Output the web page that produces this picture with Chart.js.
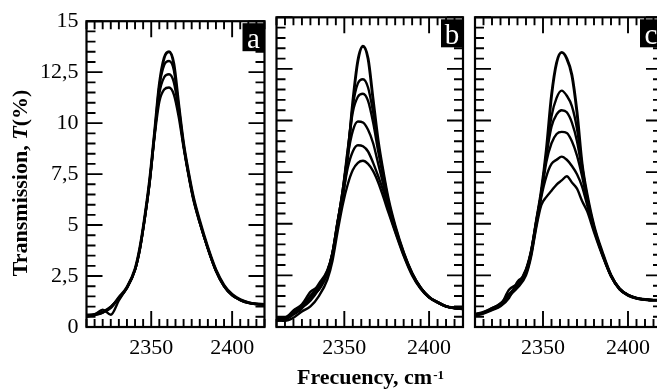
<!DOCTYPE html>
<html>
<head>
<meta charset="utf-8">
<script src="https://cdn.jsdelivr.net/npm/chart.js@4.4.1/dist/chart.umd.min.js"></script>
<style>
  html, body { margin: 0; padding: 0; background: #fff; overflow: hidden; }
  body { width: 657px; height: 390px; position: relative; }
  canvas { position: absolute; top: 0; }
</style>
</head>
<body>
<canvas id="chartA" width="270" height="390" style="left:0"></canvas>
<canvas id="chartB" width="200" height="390" style="left:270px"></canvas>
<canvas id="chartC" width="200" height="390" style="left:468px"></canvas>
<script>
/* Transmission spectra, three panels */

// wavenumber grid (cm-1) shared by all curves
const wavenumbers = [2310, 2315, 2320, 2325, 2330, 2335, 2340, 2343, 2346, 2349, 2352, 2355, 2358, 2361,
  2364, 2367, 2370, 2373, 2376, 2380, 2385, 2390, 2395, 2400, 2405, 2410, 2415, 2420];

// panel a
const a1 = [0.55, 0.62, 0.72, 0.95, 1.45, 1.95, 2.85, 3.9, 5.4, 7.2, 9.5, 11.9, 13.2, 13.5, 12.9, 10.9, 9.0, 7.6, 6.4, 5.2, 3.9, 2.8, 2.05, 1.6, 1.35, 1.2, 1.13, 1.1];
const a2 = [0.5, 0.6, 0.75, 1.0, 1.4, 1.9, 2.8, 3.85, 5.35, 7.15, 9.45, 11.8, 12.85, 13.05, 12.6, 10.8, 8.95, 7.55, 6.35, 5.15, 3.85, 2.75, 2.0, 1.55, 1.32, 1.18, 1.12, 1.1];
const a3 = [0.52, 0.58, 0.7, 0.98, 1.42, 1.92, 2.82, 3.85, 5.35, 7.1, 9.4, 11.45, 12.25, 12.4, 12.0, 10.6, 8.9, 7.5, 6.3, 5.1, 3.85, 2.78, 2.02, 1.58, 1.33, 1.2, 1.14, 1.12];
const a4 = [0.6, 0.62, 0.85, 0.6, 1.3, 1.95, 2.8, 3.8, 5.3, 7.05, 9.3, 11.05, 11.65, 11.75, 11.4, 10.3, 8.8, 7.45, 6.25, 5.1, 3.85, 2.75, 2.0, 1.55, 1.32, 1.18, 1.12, 1.1];

// panel b
const b1 = [0.4, 0.45, 0.7, 0.95, 1.3, 1.85, 2.6, 3.5, 5.0, 6.3, 8.2, 10.9, 12.9, 13.6, 13.0, 11.0, 9.0, 7.5, 6.2, 4.9, 3.6, 2.6, 1.9, 1.45, 1.2, 1.0, 0.92, 0.88];
const b2 = [0.35, 0.4, 0.65, 1.0, 1.45, 1.95, 2.7, 3.6, 5.1, 6.5, 8.5, 10.7, 11.8, 12.0, 11.6, 10.4, 8.8, 7.4, 6.1, 4.85, 3.6, 2.6, 1.9, 1.45, 1.2, 1.0, 0.92, 0.88];
const b3 = [0.38, 0.42, 0.75, 1.05, 1.5, 2.1, 2.75, 3.6, 5.05, 6.6, 8.6, 10.4, 11.15, 11.3, 10.95, 9.9, 8.5, 7.2, 6.0, 4.8, 3.55, 2.58, 1.9, 1.45, 1.2, 1.0, 0.92, 0.88];
const b4 = [0.3, 0.4, 0.8, 1.1, 1.7, 2.0, 2.7, 3.55, 5.0, 6.6, 8.3, 9.5, 9.95, 9.9, 9.55, 8.9, 7.9, 6.9, 5.9, 4.75, 3.55, 2.58, 1.9, 1.45, 1.2, 1.0, 0.92, 0.88];
const b5 = [0.3, 0.35, 0.6, 0.9, 1.5, 1.8, 2.6, 3.45, 4.9, 6.3, 7.7, 8.5, 8.8, 8.75, 8.5, 7.95, 7.3, 6.6, 5.7, 4.65, 3.5, 2.55, 1.88, 1.45, 1.2, 1.0, 0.92, 0.88];
const b6 = [0.35, 0.3, 0.45, 0.75, 1.0, 1.5, 2.3, 3.2, 4.6, 5.9, 6.9, 7.6, 7.95, 8.05, 7.9, 7.55, 7.0, 6.3, 5.55, 4.6, 3.45, 2.5, 1.85, 1.42, 1.18, 1.0, 0.92, 0.88];

// panel c
const c1 = [0.62, 0.72, 0.9, 1.1, 1.5, 1.95, 2.7, 3.6, 5.1, 6.6, 8.6, 11.2, 12.8, 13.3, 13.0, 12.2, 10.4, 7.9, 6.4, 4.9, 3.6, 2.5, 1.85, 1.55, 1.4, 1.33, 1.3, 1.3];
const c2 = [0.6, 0.7, 0.88, 1.1, 1.55, 2.0, 2.75, 3.65, 5.1, 6.5, 8.4, 10.2, 11.1, 11.45, 11.2, 10.7, 9.6, 7.8, 6.3, 4.85, 3.55, 2.5, 1.85, 1.55, 1.4, 1.33, 1.3, 1.3];
const c3 = [0.6, 0.7, 0.9, 1.15, 1.6, 2.05, 2.8, 3.7, 5.1, 6.5, 8.3, 9.7, 10.3, 10.5, 10.4, 9.9, 9.0, 7.6, 6.2, 4.8, 3.55, 2.5, 1.85, 1.55, 1.4, 1.33, 1.3, 1.3];
const c4 = [0.58, 0.68, 0.85, 1.05, 1.8, 2.1, 2.7, 3.6, 5.0, 6.4, 8.0, 8.9, 9.35, 9.45, 9.4, 9.0, 8.3, 7.3, 6.1, 4.75, 3.5, 2.48, 1.85, 1.55, 1.4, 1.33, 1.3, 1.3];
const c5 = [0.55, 0.65, 0.82, 1.0, 1.4, 2.2, 2.6, 3.5, 4.9, 6.3, 7.3, 7.9, 8.1, 8.25, 8.1, 7.8, 7.4, 6.8, 5.9, 4.7, 3.5, 2.48, 1.85, 1.55, 1.4, 1.33, 1.3, 1.3];
const c6 = [0.6, 0.7, 0.85, 1.05, 1.55, 1.9, 2.5, 3.4, 4.8, 5.9, 6.3, 6.6, 6.9, 7.1, 7.3, 7.0, 6.7, 6.1, 5.6, 4.6, 3.45, 2.45, 1.82, 1.52, 1.38, 1.32, 1.3, 1.3];

// axes
const xMin = 2310, xMax = 2420;
const xLabelTicks = [2350, 2400];
const yMin = 0, yMax = 15, yStep = 2.5;

const SERIF = '"Liberation Serif", "Times New Roman", serif';

// frame, inward major/minor ticks, panel letter and titles
const decor = {
  id: 'decor',
  afterDatasetsDraw(chart, args, opts) {
    const { ctx, chartArea: a } = chart;
    const x = chart.scales.x, y = chart.scales.y;
    ctx.save();
    ctx.strokeStyle = '#000';
    ctx.lineWidth = 1.9;
    ctx.beginPath();
    for (let v = xMin; v <= xMax; v += 5) {
      const px = x.getPixelForValue(v);
      const len = v % 50 === 0 ? 16 : 8;
      ctx.moveTo(px, a.bottom); ctx.lineTo(px, a.bottom - len);
      ctx.moveTo(px, a.top); ctx.lineTo(px, a.top + len);
    }
    for (let i = 0; i <= 30; i++) {
      const py = y.getPixelForValue(i * 0.5);
      const len = i % 5 === 0 ? 16 : 9;
      ctx.moveTo(a.left, py); ctx.lineTo(a.left + len, py);
      ctx.moveTo(a.right, py); ctx.lineTo(a.right - len, py);
    }
    ctx.stroke();
    ctx.lineWidth = 2.2;
    ctx.strokeRect(a.left, a.top, a.right - a.left, a.bottom - a.top);

    // panel letter
    ctx.fillStyle = '#000';
    ctx.fillRect(a.right - 22, a.top + 2, 22, 28);
    ctx.fillStyle = '#fff';
    ctx.font = '29px ' + SERIF;
    ctx.textAlign = 'center';
    ctx.textBaseline = 'alphabetic';
    ctx.fillText(opts.letter, a.right - 11, a.top + 27);

    ctx.fillStyle = '#000';
    ctx.textAlign = 'left';
    if (opts.yTitle) {
      const parts = [['bold 22px ' + SERIF, 'Transmission, '], ['italic bold 22px ' + SERIF, 'T'], ['bold 22px ' + SERIF, '(%)']];
      let total = 0;
      parts.forEach(p => { ctx.font = p[0]; total += ctx.measureText(p[1]).width; });
      ctx.translate(27, 183);
      ctx.rotate(-Math.PI / 2);
      let cx = -total / 2;
      parts.forEach(p => { ctx.font = p[0]; ctx.fillText(p[1], cx, 0); cx += ctx.measureText(p[1]).width; });
      ctx.setTransform(1, 0, 0, 1, 0, 0);
    }
    if (opts.xTitle) {
      ctx.font = 'bold 22px ' + SERIF;
      const main = 'Frecuency, cm';
      const w1 = ctx.measureText(main).width;
      ctx.font = 'bold 13px ' + SERIF;
      const w2 = ctx.measureText('-1').width;
      const cx = opts.xTitle - (w1 + w2) / 2;
      ctx.font = 'bold 22px ' + SERIF;
      ctx.fillText(main, cx, 384);
      ctx.font = 'bold 13px ' + SERIF;
      ctx.fillText('-1', cx + w1 + 1, 379);
    }
    ctx.restore();
  }
};

function makePanel(id, letter, series, pad, showY, titles) {
  const datasets = series.map((s, k) => ({
    data: wavenumbers.map((w, i) => ({ x: w, y: s[i] })),
    borderColor: '#000',
    borderWidth: k === 0 ? 2.9 : 2.4,
    pointRadius: 0,
    fill: false,
    cubicInterpolationMode: 'monotone'
  }));
  return new Chart(document.getElementById(id), {
    type: 'line',
    data: { datasets },
    options: {
      responsive: false,
      animation: false,
      layout: { padding: pad },
      plugins: {
        legend: { display: false },
        tooltip: { enabled: false },
        decor: Object.assign({ letter }, titles)
      },
      scales: {
        x: {
          type: 'linear',
          min: xMin,
          max: xMax,
          grid: { display: false, drawTicks: false },
          border: { display: false },
          afterBuildTicks: (s) => { s.ticks = xLabelTicks.map(v => ({ value: v })); },
          afterFit: (s) => { s.height = 63; },
          ticks: { color: '#000', padding: 8, font: { family: SERIF, size: 22 }, maxRotation: 0, callback: (v) => String(v) }
        },
        y: {
          display: showY,
          min: yMin,
          max: yMax,
          grid: { display: false, drawTicks: false },
          border: { display: false },
          afterFit: (s) => { s.width = showY ? 86.5 : 0; },
          ticks: {
            stepSize: yStep,
            color: '#000',
            padding: 8,
            font: { family: SERIF, size: 22 },
            callback: (v) => String(v).replace('.', ',')
          }
        }
      }
    },
    plugins: [decor]
  });
}

makePanel('chartA', 'a', [a1, a2, a3, a4], { left: 0, right: 5.5, top: 17.3, bottom: 0 }, true, { yTitle: true });
makePanel('chartB', 'b', [b1, b2, b3, b4, b5, b6], { left: 6.5, right: 7, top: 17.3, bottom: 0 }, false, { xTitle: 100 });
makePanel('chartC', 'c', [c1, c2, c3, c4, c5, c6], { left: 7, right: 6, top: 17.3, bottom: 0 }, false, {});
</script>
</body>
</html>
